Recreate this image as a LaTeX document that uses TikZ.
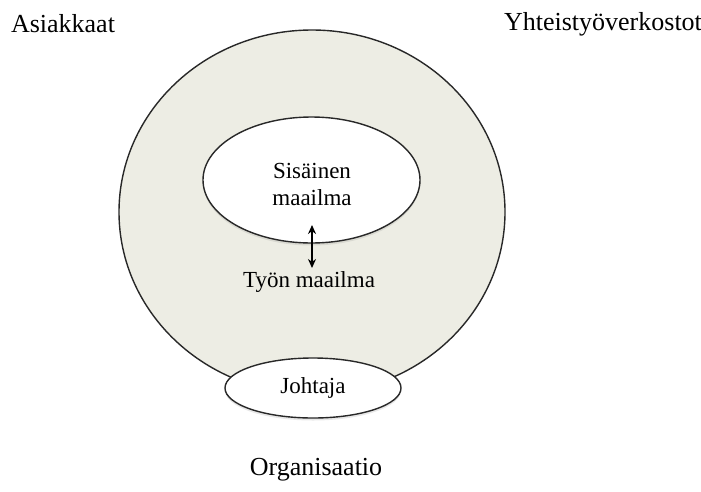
\documentclass[tikz,border=0pt]{standalone}
\usepackage{fontspec}
\setmainfont{Liberation Serif}
\usetikzlibrary{arrows.meta,shapes.geometric,shadows}
\definecolor{bgfill}{RGB}{237,237,228}
\definecolor{edge}{RGB}{40,40,40}
\begin{document}
\begin{tikzpicture}[x=1pt,y=-1pt,
  oval/.style={ellipse, draw=edge, line width=1.4pt, inner sep=0pt},
  softshadow/.style={drop shadow={opacity=0.18, shadow xshift=0pt, shadow yshift=-2.5pt}},
  lbl/.style={font=\fontsize{23}{27}\selectfont, inner sep=0pt, align=center},
  biglbl/.style={font=\fontsize{26}{30}\selectfont, inner sep=0pt},
  dblarrow/.style={{Stealth[length=9pt,width=8pt]}-{Stealth[length=9pt,width=8pt]}, line width=1.5pt}]
\useasboundingbox (0,0) rectangle (701,491);
\fill[white] (0,0) rectangle (701,491);
\node[oval, fill=bgfill, minimum width=386pt, minimum height=364pt] (outer) at (312,212) {};
\node[oval, fill=white, softshadow, minimum width=217pt, minimum height=126pt] (inner) at (311.5,180) {};
\node[oval, fill=white, softshadow, minimum width=176pt, minimum height=60pt] (johtaja) at (313,388) {};
\node[lbl] (sisa) at (312,184) {Sisäinen\\maailma};
\node[lbl] (tyon) at (309,282) {Työn maailma};
\node[lbl] (jt) at (313,388) {Johtaja};
\coordinate (a1) at (312,225);
\coordinate (a2) at (312,268);
\draw[dblarrow] (a1) -- (a2);
\node[biglbl] (asi) at (63,24) {Asiakkaat};
\node[biglbl] (yht) at (603,24) {Yhteistyöverkostot};
\node[biglbl] (org) at (316,470) {Organisaatio};
\end{tikzpicture}
\end{document}
